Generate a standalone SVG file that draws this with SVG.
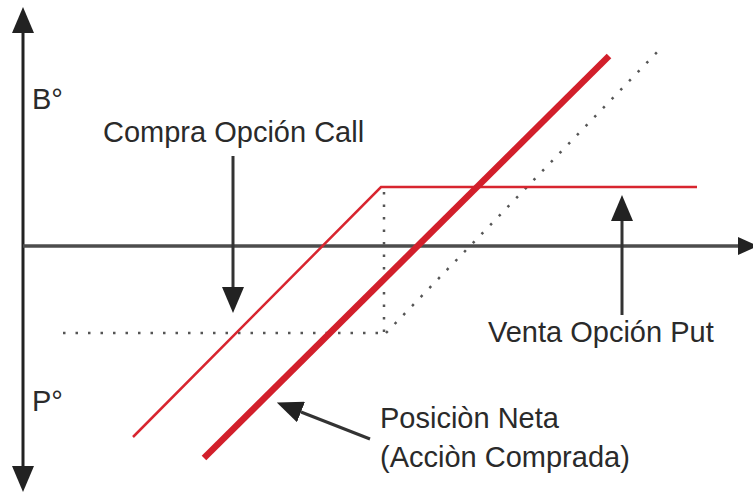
<svg xmlns="http://www.w3.org/2000/svg" width="753" height="493" viewBox="0 0 753 493">
<style>
  .lbl { font-family: "Liberation Sans", Arial, sans-serif; font-size: 29px; fill: #2a2a2a; }
  .axis { stroke: #222; stroke-width: 3; fill: none; }
  .haxis { stroke: #4d4d4d; stroke-width: 3.5; fill: none; }
  .ptr { stroke: #333; stroke-width: 3; fill: none; }
  .dot { stroke: #555; stroke-width: 2.5; fill: none; stroke-dasharray: 2.5 10; }
  .call { stroke: #d8252f; stroke-width: 2.5; fill: none; stroke-linejoin: miter; }
  .net { stroke: #d21f2b; stroke-width: 6.5; fill: none; }
</style>
<defs>
  <marker id="ah" viewBox="0 0 26 22" refX="0" refY="11" markerWidth="26" markerHeight="22" markerUnits="userSpaceOnUse" orient="auto-start-reverse">
    <path d="M0,0 L26,11 L0,22 z" fill="#222"/>
  </marker>
  <marker id="ah2" viewBox="0 0 20 18" refX="0" refY="9" markerWidth="20" markerHeight="18" markerUnits="userSpaceOnUse" orient="auto">
    <path d="M0,0 L20,9 L0,18 z" fill="#222"/>
  </marker>
</defs>
<rect width="753" height="493" fill="#fff"/>

<g id="axes">
  <line class="axis" x1="23" y1="466" x2="23" y2="33" marker-start="url(#ah)" marker-end="url(#ah)"/>
  <line class="haxis" x1="23" y1="246" x2="738" y2="246" marker-end="url(#ah2)"/>
</g>

<g id="reference-lines">
  <line class="dot" x1="63" y1="333" x2="386" y2="333"/>
  <line class="dot" x1="384" y1="192" x2="384" y2="333"/>
  <line class="dot" x1="386" y1="333" x2="663" y2="46"/>
</g>

<g id="call-option">
  <polyline class="call" points="133,437 381,187 697,187"/>
</g>

<g id="net-position">
  <line class="net" x1="204" y1="458" x2="609" y2="56"/>
</g>

<g id="connectors">
  <line class="ptr" x1="233" y1="156" x2="233" y2="287" marker-end="url(#ah)"/>
  <line class="ptr" x1="622" y1="315" x2="622" y2="221" marker-end="url(#ah)"/>
  <line class="ptr" x1="370" y1="439" x2="301" y2="412" marker-end="url(#ah)"/>
</g>

<g id="label-b">
  <text class="lbl" x="32" y="109">B°</text>
</g>
<g id="label-p">
  <text class="lbl" x="32" y="411">P°</text>
</g>
<g id="label-call">
  <text class="lbl" x="103" y="142">Compra Opción Call</text>
</g>
<g id="label-put">
  <text class="lbl" x="488" y="342">Venta Opción Put</text>
</g>
<g id="label-net">
  <text class="lbl" x="380" y="428">Posiciòn Neta</text>
  <text class="lbl" x="380" y="467">(Acciòn Comprada)</text>
</g>
</svg>
